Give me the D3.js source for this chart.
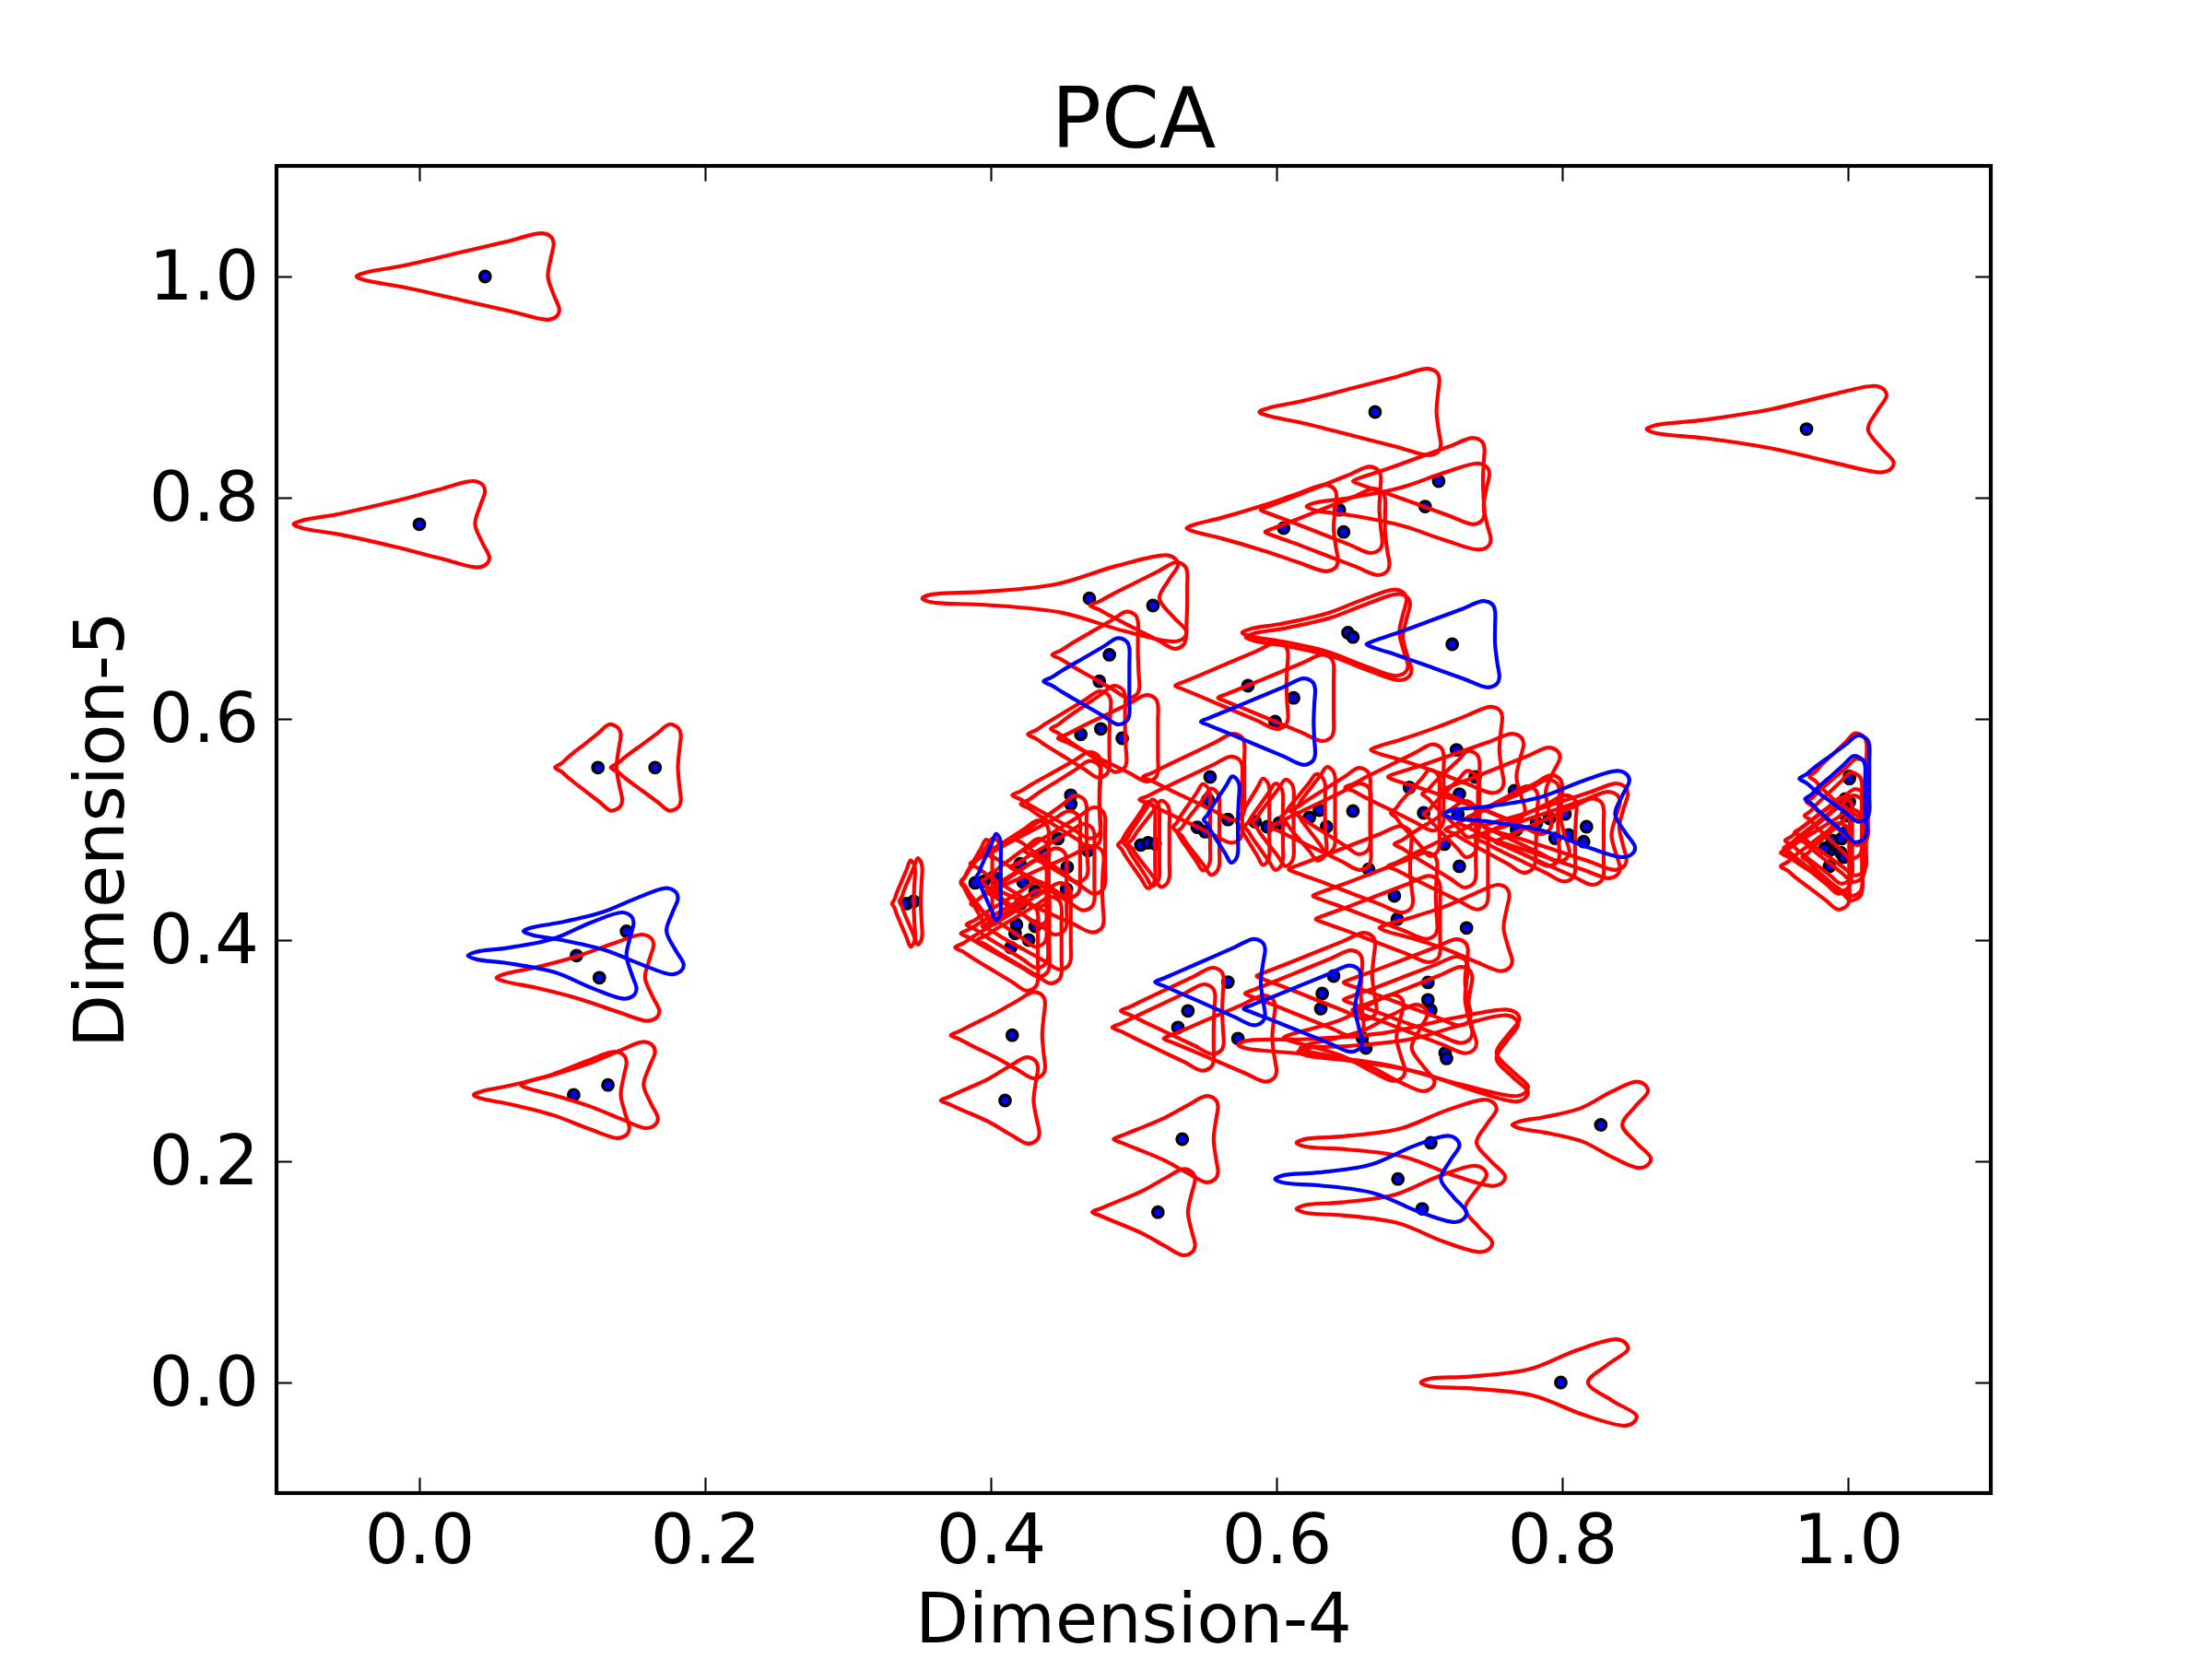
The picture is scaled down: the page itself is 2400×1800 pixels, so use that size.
<!DOCTYPE html>
<html><head><meta charset="utf-8">
<script src="https://cdnjs.cloudflare.com/ajax/libs/d3/7.8.5/d3.min.js"></script>
<style>html,body{margin:0;background:#fff}svg{display:block}text{font-family:"DejaVu Sans";fill:#000}</style>
</head><body><svg id="c" width="2400" height="1800"></svg>
<script>
const titleText = "PCA", xLabelText = "Dimension-4", yLabelText = "Dimension-5";
const xTicks = [0, 0.2, 0.4, 0.6, 0.8, 1.0], yTicks = [0, 0.2, 0.4, 0.6, 0.8, 1.0];
// row: point x, point y, tip reach, top corner reach, waist reach, bottom corner reach, shoulder, tip lift
const isolatedGlyphs = [
[.046,1.0,.090,.048,.044,.052,1],[.000,.776,.088,.046,.039,.049,.95],[.669,.8775,.081,.045,.043,.046,1],
[.971,.862,.112,.056,.043,.061,.85],[.799,.000,.098,.047,.019,.053,.55],[.827,.233,.062,.033,.015,.035,.7],
[.125,.556,.030,.016,.013,.017,1],[.165,.556,.031,.018,.016,.018,1],[.126,.366,.072,.038,.032,.042,.9],
[.108,.260,.070,.037,.033,.039,.85],[.132,.269,.061,.033,.025,.035,.9],[.341,.433,.010,.006,.005,.006,1],
[.346,.435,.010,.006,.005,.006,1],[.415,.314,.043,.023,.021,.023,.95],[.410,.255,.045,.023,.020,.024,.9],
[.534,.220,.048,.025,.022,.025,.9],[.517,.154,.046,.026,.021,.026,.9],[.708,.2167,.094,.046,.032,.052,.6],
[.702,.157,.088,.045,.030,.049,.6]];
const upperGlyphs = [
[.469,.709,.117,.062,.049,.068,.6],[.5135,.7025,.044,.024,.024,.023],[.483,.658,.040,.020,.020,.021],
[.463,.586,.037,.021,.020,.020],[.477,.591,.035,.017,.017,.018],[.492,.5825,.045,.025,.025,.025],
[.580,.63,.051,.028,.027,.028],[.612,.619,.053,.028,.028,.028],[.650,.678,.074,.041,.036,.042,.8],
[.6535,.674,.075,.040,.035,.041,.8],[.605,.7725,.068,.037,.035,.038,.95],[.644,.789,.055,.029,.028,.030],
[.647,.769,.055,.029,.029,.032],[.704,.792,.083,.045,.041,.046,.8],[.7135,.815,.060,.032,.031,.032]];
const bandGlyphs = [
[.456,.531,.041,.021,.020,.021],[.456,.523,.035,.021,.020,.021],[.505,.486,.016,.010,.010,.010],
[.510,.488,.017,.008,.008,.008],[.515,.487,.019,.010,.010,.010],[.5445,.502,.017,.009,.009,.009],
[.550,.498,.019,.010,.010,.010],[.5535,.5475,.047,.024,.024,.024],[.552,.527,.048,.024,.024,.024],
[.585,.507,.013,.010,.010,.010],[.5935,.5025,.016,.011,.011,.011],[.602,.506,.019,.010,.010,.010],
[.623,.511,.020,.011,.011,.012],[.630,.5175,.018,.011,.011,.011],[.635,.5025,.040,.031,.031,.031],
[.6535,.5167,.044,.012,.012,.012],[.6645,.464,.056,.030,.029,.031],[.6825,.44,.057,.030,.029,.030],
[.6845,.419,.057,.030,.030,.030],[.733,.411,.061,.030,.026,.032,.9],[.728,.4667,.050,.020,.020,.020],
[.7175,.4867,.035,.022,.022,.022],[.703,.515,.023,.011,.011,.011],[.693,.538,.045,.024,.024,.024],
[.728,.532,.026,.014,.014,.014],[.727,.514,.024,.014,.014,.013],[.726,.572,.060,.032,.030,.033,.95],
[.739,.5475,.061,.034,.029,.035],[.7665,.535,.052,.032,.022,.026],[.768,.50,.050,.015,.014,.013],
[.782,.506,.055,.016,.015,.016],[.791,.51,.058,.009,.008,.014],[.795,.492,.056,.015,.014,.014],
[.8045,.495,.062,.036,.030,.036],[.815,.489,.062,.014,.014,.014],[.817,.5025,.072,.029,.023,.028]];
const lowerGlyphs = [
[.538,.336,.047,.025,.024,.025],[.531,.321,.046,.026,.025,.025],[.573,.311,.052,.026,.024,.027],
[.640,.3675,.054,.029,.027,.030],[.632,.3517,.054,.028,.027,.029],[.706,.3617,.059,.028,.026,.030],
[.706,.346,.059,.028,.026,.031],[.708,.3367,.055,.029,.026,.032],[.660,.3117,.055,.029,.024,.030,.8],
[.6626,.3025,.046,.043,.032,.048,.75],[.718,.298,.145,.052,.036,.058,.7,.0075],[.719,.293,.104,.050,.035,.057,.7,.006]];
const leftClusterGlyphs = [
[.447,.4917,.030,.020,.020,.021],[.4375,.4775,.040,.025,.025,.025],[.4535,.466,.040,.019,.019,.019],
[.4205,.469,.035,.020,.020,.020],[.395,.453,.016,.012,.012,.012],[.389,.4517,.010,.012,.012,.012],
[.468,.481,.045,.012,.012,.012],[.453,.446,.050,.026,.025,.026],[.431,.444,.035,.022,.022,.022],
[.4226,.4525,.030,.018,.018,.018],[.421,.433,.035,.018,.018,.018],[.418,.414,.035,.022,.022,.022],
[.417,.406,.038,.024,.024,.024],[.431,.4125,.037,.025,.025,.025],[.4265,.40,.036,.023,.023,.023],
[.414,.3933,.039,.019,.019,.019]];
const rightClusterGlyphs = [
[1.001,.548,.028,.012],[1.001,.525,.030,.013],[.9987,.5125,.029,.011],[.9987,.4975,.036,.014],
[.995,.479,.042,.015],[.987,.481,.031,.014],[.984,.483,.029,.018],[.987,.4667,.034,.014],
[.989,.49,.033,.014],[.997,.475,.029,.013],[.9955,.4917,.030,.016]];
const blueGlyphs = [
[.145,.408,.072,.036,.028,.040,.8],[.110,.386,.076,.040,.035,.042,.7],[.402,.457,.012,.005,.005,.005],
[.566,.509,.017,.008,.007,.007],[.476,.634,.039,.021,.021,.021],[.599,.5975,.052,.028,.027,.028],
[.723,.6675,.060,.030,.030,.033],[.566,.362,.051,.026,.023,.026],[.631,.338,.054,.028,.024,.029],
[.802,.514,.085,.045,.035,.049,.7],[1.001,.546,.035,.014],[.998,.5275,.028,.014,.014,.015],
[.685,.184,.086,.043,.030,.048,.6]];

const redGlyphs = [...isolatedGlyphs, ...upperGlyphs, ...bandGlyphs, ...lowerGlyphs, ...leftClusterGlyphs, ...rightClusterGlyphs];
const HALF = 0.039;
const x = d3.scaleLinear().domain([-0.1, 1.1]).range([300, 2160]);
const y = d3.scaleLinear().domain([-0.1, 1.1]).range([1620, 180]);
const svg = d3.select("#c");

function nodes([x0, y0, L, T, W = T, B = T, s = 1, lift = 0]) {
  const half = (R, sign) => {
    const span = L + R, rx = Math.min(.008, .2 * span), ry = .009;
    const d = Math.min(.006, .1 * span), eps = Math.max(d * HALF / span, .0034);
    const g = [[.25, .25 * s], [.55, .55 * s], [.8, .8 - (1 - s) * .1]];
    const pts = [[-L + d, lift + sign * eps]];
    g.forEach(([f, h]) => pts.push([-L + f * (span - rx), lift * (1 - f) + sign * HALF * h]));
    pts.push([R - rx, sign * HALF], [R - Math.min(.0015, .05 * span), sign * (HALF - ry * .4)], [R, sign * (HALF - ry)]);
    pts.push([W + (R - W) * .5, sign * HALF * .42]);
    return pts;
  };
  const top = half(T, 1), bottom = half(B, -1);
  return [[-L, lift], ...top, [W, 0], ...bottom.reverse()].map(([a, b]) => [x0 + a, y0 + b]);
}
const line = d3.line().x(d => x(d[0])).y(d => y(d[1])).curve(d3.curveCatmullRomClosed.alpha(.5));

const allGlyphs = [...redGlyphs, ...blueGlyphs];
svg.append("g").selectAll("circle").data(allGlyphs).join("circle")
  .attr("cx", d => x(d[0])).attr("cy", d => y(d[1])).attr("r", 5.7)
  .attr("fill", "#0000ff").attr("stroke", "#000").attr("stroke-width", 3.4);
svg.append("g").selectAll("path").data(redGlyphs).join("path")
  .attr("d", d => line(nodes(d))).attr("fill", "none").attr("stroke", "#ff0000").attr("stroke-width", 4.17);
svg.append("g").selectAll("path").data(blueGlyphs).join("path")
  .attr("d", d => line(nodes(d))).attr("fill", "none").attr("stroke", "#0000ff").attr("stroke-width", 4.17);

const fmt = d3.format(".1f"), TL = 16.7;
const style = g => { g.select(".domain").remove(); g.selectAll("line").attr("stroke", "#000").attr("stroke-width", 2.08); };
svg.append("g").attr("transform", "translate(0,1620)")
  .call(d3.axisBottom(x).tickValues(xTicks).tickSize(-TL).tickPadding(23).tickFormat(fmt)).call(style)
  .selectAll("text").attr("font-size", 75).attr("font-family", "DejaVu Sans").attr("fill", "#000");
svg.append("g").attr("transform", "translate(0,180)")
  .call(d3.axisTop(x).tickValues(xTicks).tickSize(-TL).tickFormat("")).call(style);
svg.append("g").attr("transform", "translate(300,0)")
  .call(d3.axisLeft(y).tickValues(yTicks).tickSize(-TL).tickPadding(19).tickFormat(fmt)).call(style)
  .selectAll("text").attr("font-size", 75).attr("font-family", "DejaVu Sans").attr("fill", "#000");
svg.append("g").attr("transform", "translate(2160,0)")
  .call(d3.axisRight(y).tickValues(yTicks).tickSize(-TL).tickFormat("")).call(style);
svg.append("rect").attr("x", 300).attr("y", 180).attr("width", 1860).attr("height", 1440)
  .attr("fill", "none").attr("stroke", "#000").attr("stroke-width", 4.17);

svg.append("text").attr("x", 1230).attr("y", 160).attr("text-anchor", "middle").attr("font-size", 90).text(titleText);
svg.append("text").attr("x", 1230).attr("y", 1782).attr("text-anchor", "middle").attr("font-size", 75).text(xLabelText);
svg.append("text").attr("transform", "translate(134,900) rotate(-90)").attr("text-anchor", "middle").attr("font-size", 75).text(yLabelText);
</script></body></html>
